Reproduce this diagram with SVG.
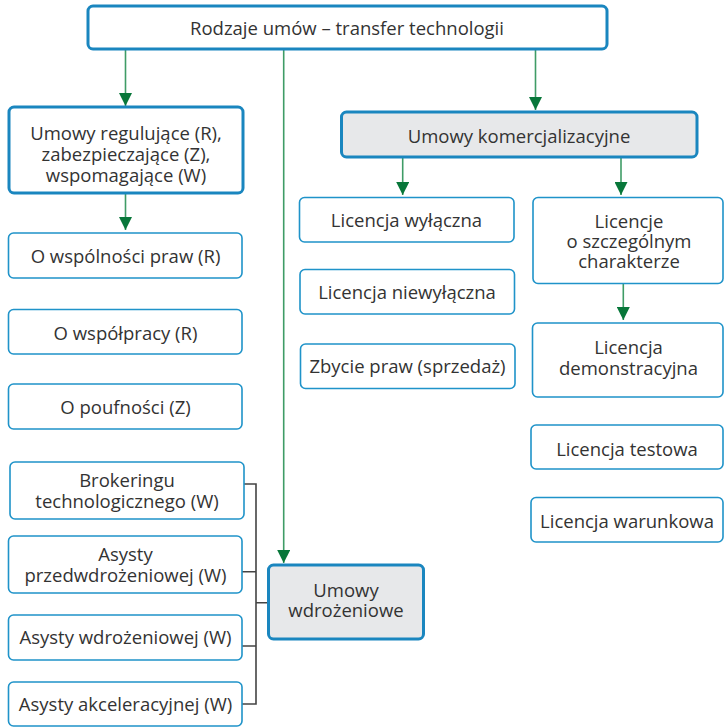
<svg xmlns="http://www.w3.org/2000/svg" width="724" height="727" viewBox="0 0 724 727">
  <style>
    .box { fill: #ffffff; stroke: #1f93c9; stroke-width: 1.6; }
    .main { fill: #ffffff; stroke: #1a86bf; stroke-width: 3; }
    .grey { fill: #e7e8ea; stroke: #1a86bf; stroke-width: 3; }
    text { font-family: "Open Sans", Lato, "Liberation Sans", sans-serif; font-size: 18.5px; fill: #333333; text-anchor: middle; }
    .flow { stroke: #3f9c66; stroke-width: 1.6; fill: none; }
    .bracket { stroke: #444444; stroke-width: 1.6; fill: none; }
  </style>
  <defs>
    <marker id="arrowL" viewBox="0 0 10 10" refX="10" refY="5" markerWidth="14" markerHeight="13" markerUnits="userSpaceOnUse" orient="auto">
      <path d="M0,0 L10,5 L0,10 z" fill="#08773a"/>
    </marker>
  </defs>

  <g id="connectors">
    <line class="flow" x1="125.5" y1="50" x2="125.5" y2="106" marker-end="url(#arrowL)"/>
    <line class="flow" x1="535.5" y1="50" x2="535.5" y2="110" marker-end="url(#arrowL)"/>
    <line class="flow" x1="283.7" y1="50" x2="283.7" y2="563" marker-end="url(#arrowL)"/>
    <line class="flow" x1="125.5" y1="194" x2="125.5" y2="230" marker-end="url(#arrowL)"/>
    <line class="flow" x1="402.7" y1="158" x2="402.7" y2="195" marker-end="url(#arrowL)"/>
    <line class="flow" x1="621" y1="158" x2="621" y2="195" marker-end="url(#arrowL)"/>
    <line class="flow" x1="623.3" y1="284" x2="623.3" y2="320" marker-end="url(#arrowL)"/>
    <!-- bracket joining the supporting agreements -->
    <path class="bracket" d="M242,484 H256 V704 H242 M242,571.7 H256 M242,646 H256 M256,602.7 H268"/>
  </g>

  <g id="root">
    <rect class="main" x="88" y="6" width="519" height="43" rx="5"/>
    <text x="347" y="34.5">Rodzaje umów – transfer technologii</text>
  </g>

  <g id="regulujace">
    <rect class="main" x="9" y="107" width="234" height="86" rx="5"/>
    <text x="126" y="139.5">Umowy regulujące (R),</text>
    <text x="126" y="160.5">zabezpieczające (Z),</text>
    <text x="126" y="181.5">wspomagające (W)</text>
  </g>

  <g id="komercjalizacyjne">
    <rect class="grey" x="341.5" y="112" width="355.5" height="45" rx="5"/>
    <text x="519" y="142.5">Umowy komercjalizacyjne</text>
  </g>

  <g id="wspolnosc">
    <rect class="box" x="8.5" y="233" width="233.5" height="45" rx="5"/>
    <text x="125.5" y="262.5">O wspólności praw (R)</text>
  </g>
  <g id="wspolpraca">
    <rect class="box" x="8.5" y="309.5" width="233.5" height="44.5" rx="5"/>
    <text x="125.5" y="339.5">O współpracy (R)</text>
  </g>
  <g id="poufnosc">
    <rect class="box" x="8.5" y="384" width="233.5" height="45" rx="5"/>
    <text x="125.5" y="414">O poufności (Z)</text>
  </g>

  <g id="wylaczna">
    <rect class="box" x="299.5" y="197.5" width="214.5" height="44.5" rx="5"/>
    <text x="406.5" y="226.5">Licencja wyłączna</text>
  </g>
  <g id="niewylaczna">
    <rect class="box" x="300" y="269.5" width="214.5" height="44.5" rx="5"/>
    <text x="407" y="299">Licencja niewyłączna</text>
  </g>
  <g id="zbycie">
    <rect class="box" x="300.5" y="344" width="214.5" height="44.5" rx="5"/>
    <text x="407.5" y="373">Zbycie praw (sprzedaż)</text>
  </g>

  <g id="szczegolne">
    <rect class="box" x="533" y="197.5" width="190" height="86" rx="5"/>
    <text x="629" y="228">Licencje</text>
    <text x="629" y="248">o szczególnym</text>
    <text x="629" y="268">charakterze</text>
  </g>
  <g id="demonstracyjna">
    <rect class="box" x="532.5" y="323" width="190.5" height="74" rx="5"/>
    <text x="628.5" y="354">Licencja</text>
    <text x="628.5" y="374.5">demonstracyjna</text>
  </g>
  <g id="testowa">
    <rect class="box" x="531" y="425" width="192" height="44" rx="5"/>
    <text x="627" y="456">Licencja testowa</text>
  </g>
  <g id="warunkowa">
    <rect class="box" x="531" y="497.5" width="192" height="44.5" rx="5"/>
    <text x="627" y="528">Licencja warunkowa</text>
  </g>

  <g id="brokering">
    <rect class="box" x="10" y="462" width="234" height="57" rx="5"/>
    <text x="127" y="487">Brokeringu</text>
    <text x="127" y="508">technologicznego (W)</text>
  </g>
  <g id="przedwdrozeniowa">
    <rect class="box" x="8.5" y="536" width="233.5" height="57" rx="5"/>
    <text x="125.5" y="561">Asysty</text>
    <text x="125.5" y="582">przedwdrożeniowej (W)</text>
  </g>
  <g id="wdrozeniowa">
    <rect class="box" x="8.5" y="615" width="233.5" height="45" rx="5"/>
    <text x="125.5" y="644">Asysty wdrożeniowej (W)</text>
  </g>
  <g id="akceleracyjna">
    <rect class="box" x="8.5" y="682" width="233.5" height="44" rx="5"/>
    <text x="125.5" y="711">Asysty akceleracyjnej (W)</text>
  </g>

  <g id="wdrozeniowe">
    <rect class="grey" x="268.5" y="565" width="155" height="74" rx="5"/>
    <text x="346" y="597">Umowy</text>
    <text x="346" y="616.5">wdrożeniowe</text>
  </g>
</svg>
